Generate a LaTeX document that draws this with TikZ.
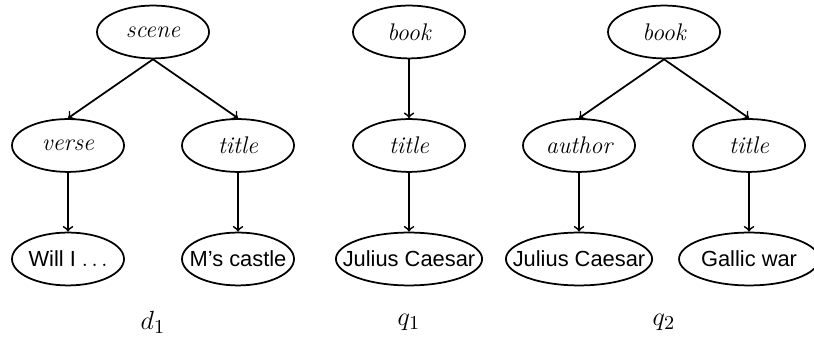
\documentclass[tikz,border=0pt]{standalone}
\usepackage{fontspec}
\setsansfont{Liberation Sans}
\usetikzlibrary{positioning,shapes.geometric}

\begin{document}
\begin{tikzpicture}[on grid, line width=0.8pt, >=to,
    elem/.style={ellipse, draw, inner xsep=-0.24cm, inner ysep=0pt,
        minimum width=1.8cm, minimum height=0.85cm},
    tag/.style={elem, font=\fontsize{11}{13}\selectfont\itshape},
    val/.style={elem, font=\sffamily},
    treename/.style={font=\fontsize{13}{15}\selectfont}]
    \useasboundingbox (-2.459,0.514) rectangle (10.622,-5.062);
    \node[tag] (scene) {scene};
    \node[tag, below left=1.824cm and 1.366cm of scene] (verse) {verse};
    \node[tag, below right=1.824cm and 1.366cm of scene] (titleA) {title};
    \node[val, below=1.824cm of verse] (will) {Will I $\ldots$};
    \node[val, below=1.824cm of titleA] (castle) {M's castle};
    \node[treename, below=4.66cm of scene] (d1) {$d_1$};

    \node[tag, right=4.114cm of scene] (bookA) {book};
    \node[tag, below=1.824cm of bookA] (titleB) {title};
    \node[val, below=1.824cm of titleB, minimum width=2.35cm] (juliusA) {Julius Caesar};
    \node[treename, below=4.66cm of bookA] (q1) {$q_1$};

    \node[tag, right=4.098cm of bookA] (bookB) {book};
    \node[tag, below left=1.824cm and 1.366cm of bookB] (author) {author};
    \node[tag, below right=1.824cm and 1.366cm of bookB] (titleC) {title};
    \node[val, below=1.824cm of author, minimum width=2.35cm] (juliusB) {Julius Caesar};
    \node[val, below=1.824cm of titleC, minimum width=2.25cm] (gallic) {Gallic war};
    \node[treename, below=4.66cm of bookB] (q2) {$q_2$};

    \draw[->] (scene.south) -- (verse.north);
    \draw[->] (scene.south) -- (titleA.north);
    \draw[->] (verse) -- (will);
    \draw[->] (titleA) -- (castle);
    \draw[->] (bookA) -- (titleB);
    \draw[->] (titleB) -- (juliusA);
    \draw[->] (bookB.south) -- (author.north);
    \draw[->] (bookB.south) -- (titleC.north);
    \draw[->] (author) -- (juliusB);
    \draw[->] (titleC) -- (gallic);
\end{tikzpicture}
\end{document}
